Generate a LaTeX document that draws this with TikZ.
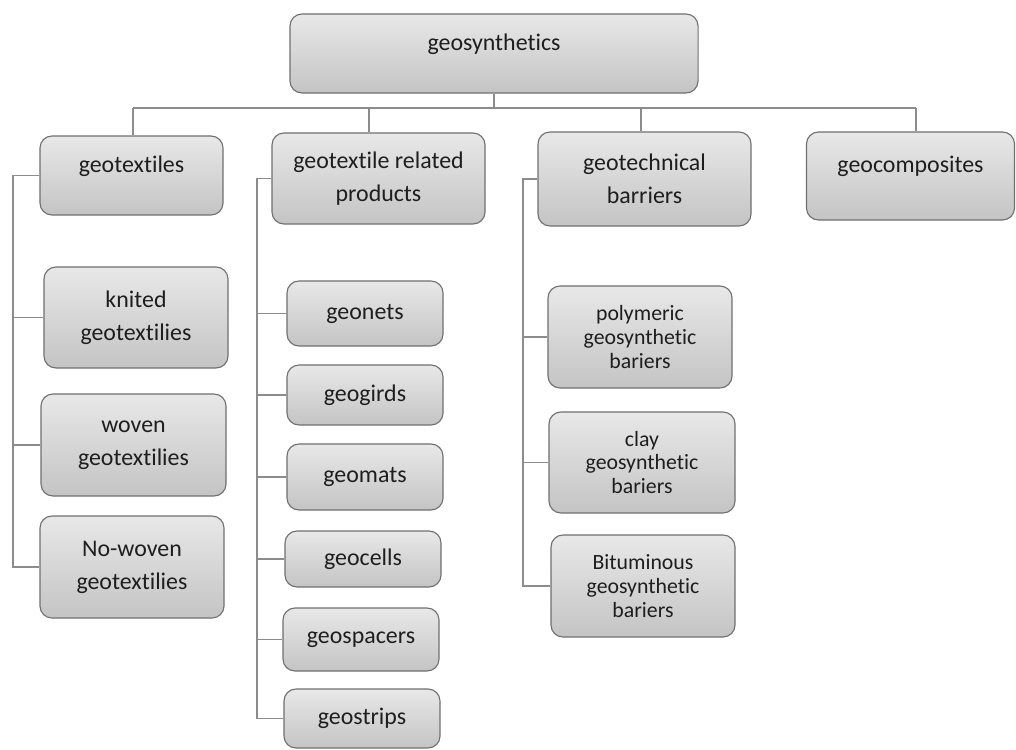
\documentclass[tikz,border=0pt]{standalone}
\usepackage{fontspec}
\setmainfont[Ligatures=NoCommon]{Carlito}
\usetikzlibrary{calc}
\definecolor{boxtop}{HTML}{E8E8E8}
\definecolor{boxbot}{HTML}{C4C4C4}
\definecolor{boxline}{HTML}{707070}
\definecolor{linegray}{HTML}{8C8C8C}
\definecolor{textgray}{HTML}{1E1E1E}

\begin{document}
\begin{tikzpicture}[x=0.025cm, y=-0.025cm]
	\tikzstyle{box}   = [draw=boxline, line width=0.8pt, rounded corners=0.3cm, top color=boxtop, bottom color=boxbot, align=center, text=textgray, inner sep=0pt, font=\fontsize{17}{23.5}\selectfont]
	\tikzstyle{oneline} = [text depth=16pt]
	\tikzstyle{three} = [font=\fontsize{15.5}{17}\selectfont]
	\tikzstyle{link}  = [draw=linegray, line width=0.9pt]
	\useasboundingbox (0,0) rectangle (1016,749);

	%% top levels
	\node [box, oneline, minimum width=10.2cm, minimum height=1.975cm](root) at (494, 53.5) {geosynthetics};
	\node [box, oneline, minimum width=4.575cm, minimum height=1.975cm](gtx) at (131.5, 175.5) {geotextiles};
	\node [box, minimum width=5.325cm, minimum height=2.275cm](grp) at (378.5, 178.5) {geotextile related\\products};
	\node [box, minimum width=5.325cm, minimum height=2.35cm](gtb) at (644.5, 179) {geotechnical\\barriers};
	\node [box, oneline, minimum width=5.2cm, minimum height=2.2cm](gcp) at (910.5, 176) {geocomposites};

	%% geotextiles
	\node [box, minimum width=4.6cm, minimum height=2.525cm](knit) at (136, 317.5) {knited\\geotextilies};
	\node [box, minimum width=4.625cm, minimum height=2.55cm](woven) at (133.5, 445) {woven\\geotextilies};
	\node [box, minimum width=4.6cm, minimum height=2.55cm](nowoven) at (132, 567) {No-woven\\geotextilies};

	%% related products
	\node [box, minimum width=3.9cm, minimum height=1.625cm](nets) at (365, 313.5) {geonets};
	\node [box, minimum width=3.9cm, minimum height=1.5cm](girds) at (365, 395) {geogirds};
	\node [box, minimum width=3.9cm, minimum height=1.65cm](mats) at (365, 477) {geomats};
	\node [box, minimum width=3.9cm, minimum height=1.4cm](cells) at (363, 559) {geocells};
	\node [box, minimum width=3.9cm, minimum height=1.575cm](spacers) at (361, 639.5) {geospacers};
	\node [box, minimum width=3.9cm, minimum height=1.475cm](strips) at (362, 718.5) {geostrips};

	%% barriers
	\node [box, three, minimum width=4.6cm, minimum height=2.55cm](poly) at (640, 337) {polymeric\\geosynthetic\\bariers};
	\node [box, three, minimum width=4.65cm, minimum height=2.525cm](clay) at (642, 462.5) {clay\\geosynthetic\\bariers};
	\node [box, three, minimum width=4.6cm, minimum height=2.55cm](bitum) at (643, 586) {Bituminous\\geosynthetic\\bariers};

	%% trunk positions
	\coordinate (bus) at (0, 108);
	\coordinate (tl) at (13, 0);
	\coordinate (tm) at (257, 0);
	\coordinate (tr) at (523, 0);
	\coordinate (d1) at (133, 0);
	\coordinate (d2) at (369, 0);
	\coordinate (d3) at (641, 0);
	\coordinate (d4) at (916, 0);

	\draw[link] (root.south) -- (root.south |- bus);
	\draw[link] (d1 |- bus) -- (d4 |- bus);
	\draw[link] (d1 |- bus) -- (d1 |- gtx.north);
	\draw[link] (d2 |- bus) -- (d2 |- grp.north);
	\draw[link] (d3 |- bus) -- (d3 |- gtb.north);
	\draw[link] (d4 |- bus) -- (d4 |- gcp.north);

	\draw[link] (gtx.west) -- (gtx.west -| tl) |- (nowoven.west);
	\foreach \n in {knit, woven}
		\draw[link] (\n.west) -- (\n.west -| tl);

	\draw[link] (grp.west) -- (grp.west -| tm) |- (strips.west);
	\foreach \n in {nets, girds, mats, cells, spacers}
		\draw[link] (\n.west) -- (\n.west -| tm);

	\draw[link] (gtb.west) -- (gtb.west -| tr) |- (bitum.west);
	\foreach \n in {poly, clay}
		\draw[link] (\n.west) -- (\n.west -| tr);
\end{tikzpicture}
\end{document}
